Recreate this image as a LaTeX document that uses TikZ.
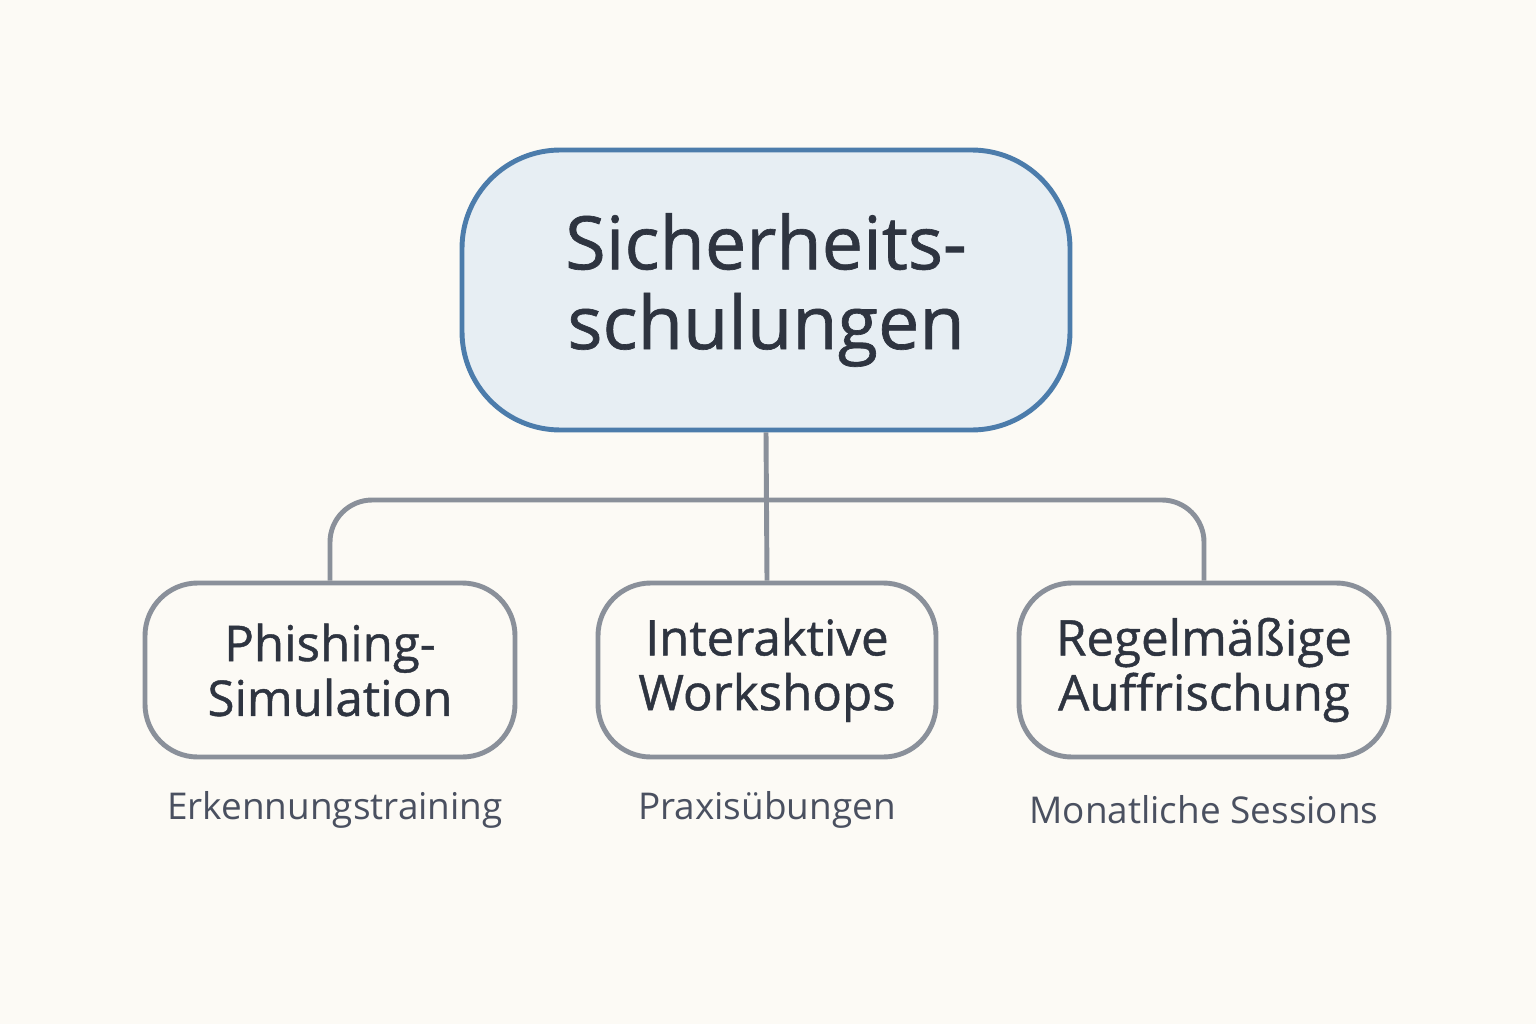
\documentclass[tikz,border=0pt]{standalone}
\usepackage{fontspec}
\setmainfont{Open Sans}
\newfontfamily\headfont[FakeBold=0.9]{Open Sans}
\usetikzlibrary{positioning}
\definecolor{bgcol}{HTML}{FCFAF5}
\definecolor{topfill}{HTML}{E7EEF3}
\definecolor{topline}{HTML}{4C7CAB}
\definecolor{txtcol}{HTML}{2E3440}
\definecolor{boxline}{HTML}{8A909A}
\definecolor{subcol}{HTML}{4A5060}
\begin{document}
\begin{tikzpicture}[thick,
	main node/.style={rectangle,rounded corners=15pt,draw=boxline,line width=1.4pt,fill=bgcol,
		minimum height=1.74cm,align=center,text=txtcol,font=\headfont\fontsize{14}{15.6}\selectfont},
	sub node/.style={text=subcol,font=\fontsize{10.5}{13}\selectfont}]
	\fill[bgcol] (0,0) rectangle (15.36,10.24);
	\useasboundingbox (0,0) rectangle (15.36,10.24);
	
	\node[main node, draw=topline, fill=topfill, rounded corners=28pt, minimum width=6.08cm, minimum height=2.8cm,
		font=\headfont\fontsize{21}{22.7}\selectfont] (top) at (7.66,7.34) {Sicherheits-\\schulungen};
	\node[main node, minimum width=3.7cm] (phish) at (3.30,3.54) {Phishing-\\Simulation};
	\node[main node, minimum width=3.38cm] (work) at (7.67,3.54) {Interaktive\\Workshops};
	\node[main node, minimum width=3.7cm] (regel) at (12.04,3.54) {Regelmäßige\\Auffrischung};
	
	\node[sub node] (s1) at (3.35,2.14) {Erkennungstraining};
	\node[sub node] (s2) at (7.67,2.14) {Praxisübungen};
	\node[sub node] (s3) at (12.04,2.14) {Monatliche Sessions};
	
	\coordinate (bar) at (7.66,5.24);
	\draw[boxline, line width=1.4pt] (top.south) -- (work.north);
	\draw[boxline, line width=1.4pt, rounded corners=12pt] (phish.north) |- (bar) -| (regel.north);
\end{tikzpicture}
\end{document}
